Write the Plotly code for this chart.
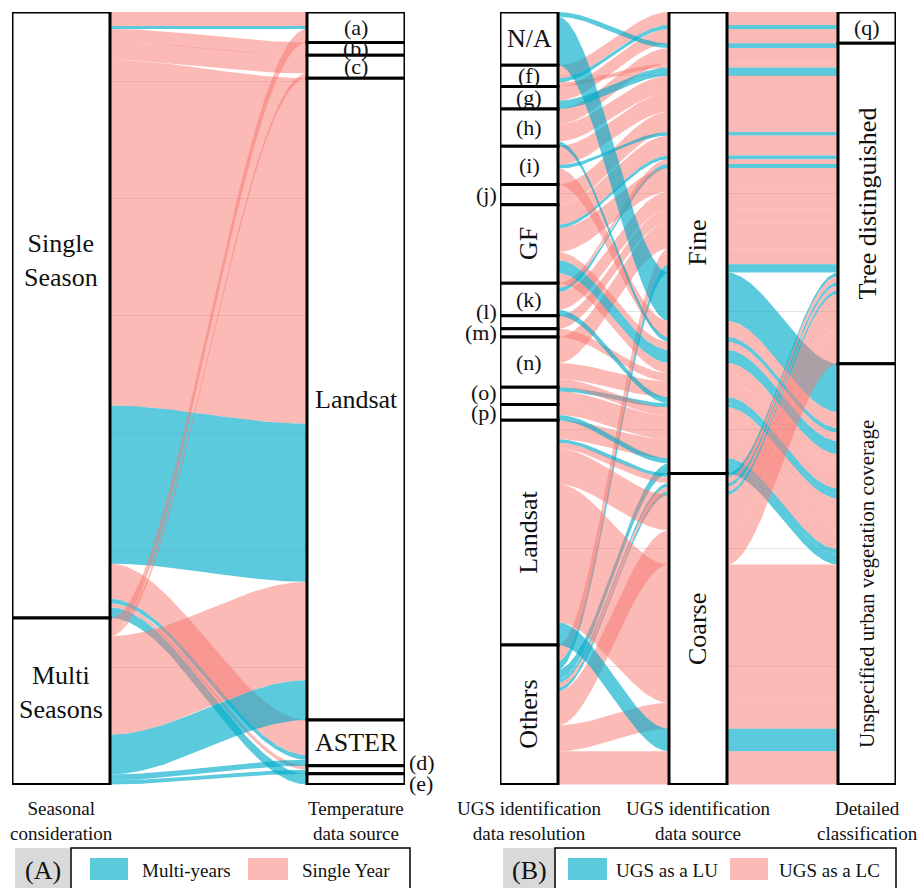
import numpy as np
import plotly.graph_objects as go

# ---------------- Panel A: seasonal consideration -> temperature data source
season_levels = ["Single Season", "Multi Seasons"]
temp_levels = ["(a)", "(b)", "(c)", "Landsat", "ASTER", "(d)", "(e)"]
a_season = ["Single Season"] * 10 + ["Multi Seasons"] * 6
a_temp = ["(a)", "(a)", "(b)", "(c)", "Landsat", "Landsat", "ASTER", "ASTER", "(d)", "(e)",
          "(a)", "(c)", "Landsat", "Landsat", "ASTER", "(d)"]
a_period = ["Single Year", "Multi-years", "Single Year", "Single Year", "Single Year",
            "Multi-years", "Single Year", "Multi-years", "Single Year", "Multi-years",
            "Single Year", "Single Year", "Single Year", "Multi-years", "Multi-years",
            "Multi-years"]
a_weight = [1.2, 0.25, 1.1, 1.55, 29.5, 13.5, 3.0, 0.4, 0.35, 0.9,
            1.15, 0.4, 8.4, 3.4, 0.5, 0.35]

# ---------------- Panel B: resolution -> data source -> detailed classification
res_levels = ["N/A", "(f)", "(g)", "(h)", "(i)", "(j)", "GF", "(k)", "(l)", "(m)",
              "(n)", "(o)", "(p)", "Landsat", "Others"]
src_levels = ["Fine", "Coarse"]
cls_levels = ["(q)", "Tree distinguished", "Unspecified urban vegetation coverage"]
TD, UN = "Tree distinguished", "Unspecified urban vegetation coverage"

b_res = ["(f)", "(f)", "(g)",
         "N/A", "(h)", "(f)", "(g)", "(h)", "(i)", "(j)", "(i)", "GF", "GF", "(k)", "(k)",
         "GF", "(k)", "(l)", "(n)", "Others", "Others",
         "N/A", "(i)", "(h)", "GF", "GF", "GF", "(m)", "(n)", "(k)", "(o)", "(n)", "(o)",
         "(p)", "Landsat", "(p)", "Others",
         "Landsat", "Landsat", "Others", "Others", "Others", "Landsat", "Others",
         "Landsat", "Others", "Landsat", "Others"]
b_src = ["Fine"] * 37 + ["Coarse"] * 11
b_cls = ["(q)"] * 3 + [TD] * 18 + [UN] * 16 + [TD] * 7 + [UN] * 4
b_type = ["LC", "LU", "LC",
          "LU", "LC", "LC", "LU", "LC", "LC", "LC", "LU", "LC", "LU", "LC", "LU",
          "LC", "LC", "LC", "LC", "LC", "LU",
          "LU", "LC", "LU", "LC", "LU", "LC", "LC", "LC", "LU", "LU", "LC", "LC",
          "LC", "LC", "LU", "LU",
          "LU", "LC", "LU", "LC", "LU", "LC", "LC",
          "LC", "LC", "LU", "LC"]
b_weight = [1.1, 0.35, 1.2,
            0.4, 1.3, 0.35, 0.7, 1.45, 1.6, 1.7, 0.3, 1.7, 0.3, 0.4, 0.35,
            2.0, 1.5, 1.1, 2.2, 1.35, 0.7,
            4.1, 1.35, 0.4, 0.7, 1.1, 0.85, 0.7, 1.35, 0.5, 0.35, 0.7, 1.1,
            0.9, 1.6, 0.45, 0.85,
            0.3, 0.5, 0.3, 0.4, 0.3, 3.0, 2.9,
            11.7, 2.2, 1.9, 2.8]

# ---------------- styling
CYAN = "rgba(0,172,202,0.64)"
SALMON = "rgba(248,118,109,0.5)"
colour_a = {"Multi-years": CYAN, "Single Year": SALMON}
colour_b = {"LU": CYAN, "LC": SALMON}
FONT = "Liberation Serif"
W, H = 919, 888


def px(x):
    return x / W


def py(y):
    return 1 - y / H


def stack_axis(strata, levels, weights, key):
    """Stack lodes from the top of the axis; returns lode spans and stratum spans."""
    top = float(sum(weights))
    lodes, spans = {}, {}
    for lev in levels:
        members = sorted([i for i, s in enumerate(strata) if s == lev], key=key)
        if not members:
            continue
        s_top = top
        for i in members:
            lodes[i] = (top - weights[i], top)
            top -= weights[i]
        spans[lev] = (top, s_top)
    return lodes, spans


def ribbon(x0, x1, a, b, n=80):
    t = np.linspace(0, 1, n)
    s = t * t * (3 - 2 * t)
    xs = x0 + (x1 - x0) * t
    upper = a[1] + (b[1] - a[1]) * s
    lower = a[0] + (b[0] - a[0]) * s
    return (np.concatenate([xs, xs[::-1], xs[:1]]),
            np.concatenate([upper, lower[::-1], upper[:1]]))


fig = go.Figure()
shapes, annots = [], []

# ---------- Panel A stacking
sA = {v: k for k, v in enumerate(season_levels)}
tA = {v: k for k, v in enumerate(temp_levels)}
a_left, a_left_span = stack_axis(a_season, season_levels, a_weight,
                                 key=lambda i: (tA[a_temp[i]], i))
a_right, a_right_span = stack_axis(a_temp, temp_levels, a_weight,
                                   key=lambda i: (sA[a_season[i]], i))
hA = 0.1661
totalA = sum(a_weight)
for i in range(len(a_weight)):
    X, Y = ribbon(1 + hA, 2 - hA, a_left[i], a_right[i])
    fig.add_trace(go.Scatter(x=X, y=Y, mode="lines", fill="toself",
                             fillcolor=colour_a[a_period[i]], line=dict(width=0),
                             hoverinfo="skip", showlegend=False, xaxis="x", yaxis="y"))

# ---------- Panel B stacking
sB = {v: k for k, v in enumerate(src_levels)}
cB = {v: k for k, v in enumerate(cls_levels)}
b_l, b_l_span = stack_axis(b_res, res_levels, b_weight,
                           key=lambda i: (sB[b_src[i]], cB[b_cls[i]], i))
b_m, b_m_span = stack_axis(b_src, src_levels, b_weight,
                           key=lambda i: (cB[b_cls[i]], i))
b_r, b_r_span = stack_axis(b_cls, cls_levels, b_weight,
                           key=lambda i: (sB[b_src[i]], i))
hB = 0.1716
totalB = sum(b_weight)
for i in range(len(b_weight)):
    for (x0, x1, a, b) in [(1 + hB, 2 - hB, b_l[i], b_m[i]), (2 + hB, 3 - hB, b_m[i], b_r[i])]:
        X, Y = ribbon(x0, x1, a, b)
        fig.add_trace(go.Scatter(x=X, y=Y, mode="lines", fill="toself",
                                 fillcolor=colour_b[b_type[i]], line=dict(width=0),
                                 hoverinfo="skip", showlegend=False, xaxis="x2", yaxis="y2"))


# ---------- strata boxes and labels
def add_strata(spans, xpos, h, xr, yr, labels):
    for lev, (lo, hi) in spans.items():
        shapes.append(dict(type="rect", xref=xr, yref=yr, x0=xpos - h, x1=xpos + h,
                           y0=lo, y1=hi, fillcolor="white",
                           line=dict(color="black", width=3), layer="above"))
        spec = labels.get(lev, {})
        text = spec.get("text", lev)
        side = spec.get("side", "in")
        ann = dict(xref=xr, yref=yr, y=(lo + hi) / 2, text=text, showarrow=False,
                   font=dict(family=FONT, size=spec.get("size", 26), color="#111111"),
                   textangle=spec.get("angle", 0), yshift=spec.get("dy", 0))
        if side == "in":
            ann.update(x=xpos, xanchor="center", yanchor="middle")
        elif side == "left":
            ann.update(x=xpos - h, xanchor="right", xshift=-1, yanchor="middle")
        else:
            ann.update(x=xpos + h, xanchor="left", xshift=2, yanchor="middle")
        annots.append(ann)


small = 22
labA_left = {"Single Season": dict(text="Single<br>Season", dy=55),
             "Multi Seasons": dict(text="Multi<br>Seasons", dy=9)}
labA_right = {"(a)": dict(size=small), "(b)": dict(size=small), "(c)": dict(size=small),
              "(d)": dict(size=small, side="right", dy=7),
              "(e)": dict(size=small, side="right", dy=-4)}
add_strata(a_left_span, 1, hA, "x", "y", labA_left)
add_strata(a_right_span, 2, hA, "x", "y", labA_right)

labB_left = {k: dict(size=small) for k in ["(f)", "(g)", "(h)", "(i)", "(k)", "(n)"]}
labB_left.update({"(j)": dict(size=small, side="left"),
                  "(l)": dict(size=small, side="left", dy=11),
                  "(m)": dict(size=small, side="left", dy=0),
                  "(o)": dict(size=small, side="left", dy=3),
                  "(p)": dict(size=small, side="left", dy=0),
                  "GF": dict(angle=-90), "Landsat": dict(angle=-90),
                  "Others": dict(angle=-90)})
labB_mid = {"Fine": dict(angle=-90), "Coarse": dict(angle=-90)}
labB_right = {"(q)": dict(size=small), TD: dict(angle=-90),
              UN: dict(angle=-90, size=21, dy=-10)}
add_strata(b_l_span, 1, hB, "x2", "y2", labB_left)
add_strata(b_m_span, 2, hB, "x2", "y2", labB_mid)
add_strata(b_r_span, 3, hB, "x2", "y2", labB_right)

# ---------- axis titles under each column
for xr, xv, txt in [("x", 1, "Seasonal<br>consideration"),
                    ("x", 2, "Temperature<br>data source"),
                    ("x2", 1, "UGS identification<br>data resolution"),
                    ("x2", 2, "UGS identification<br>data source"),
                    ("x2", 3, "Detailed<br>classification")]:
    annots.append(dict(xref=xr, yref="paper", x=xv, y=py(821), text=txt, showarrow=False,
                       xanchor="center", yanchor="middle",
                       font=dict(family=FONT, size=19, color="#111111")))

# ---------- legends
legends = [
    dict(tag="(A)", grey=(15, 71), box=(71, 410),
         items=[(90, 128, CYAN, "Multi-years", 186), (248, 288, SALMON, "Single Year", 346)]),
    dict(tag="(B)", grey=(503, 555), box=(555, 896),
         items=[(568, 607, CYAN, "UGS as a LU", 667), (730, 768, SALMON, "UGS as a LC", 829)]),
]
for lg in legends:
    shapes.append(dict(type="rect", xref="paper", yref="paper", x0=px(lg["grey"][0]),
                       x1=px(lg["grey"][1]), y0=py(900), y1=py(848),
                       fillcolor="#d9d9d9", line=dict(width=0)))
    shapes.append(dict(type="rect", xref="paper", yref="paper", x0=px(lg["box"][0]),
                       x1=px(lg["box"][1]), y0=py(900), y1=py(848),
                       fillcolor="white", line=dict(color="black", width=1.5)))
    annots.append(dict(xref="paper", yref="paper", x=px(sum(lg["grey"]) / 2), y=py(870),
                       text=lg["tag"], showarrow=False, xanchor="center", yanchor="middle",
                       font=dict(family=FONT, size=26, color="#111111")))
    for x0, x1, col, name, tx in lg["items"]:
        shapes.append(dict(type="rect", xref="paper", yref="paper", x0=px(x0), x1=px(x1),
                           y0=py(880), y1=py(858), fillcolor=col, line=dict(width=0)))
        annots.append(dict(xref="paper", yref="paper", x=px(tx), y=py(870), text=name,
                           showarrow=False, xanchor="center", yanchor="middle",
                           font=dict(family=FONT, size=19, color="#111111")))

ydom = [py(785), py(12)]
grid = dict(showgrid=True, gridcolor="#e4e4e4", gridwidth=1, dtick=10, tick0=0,
            showticklabels=False, zeroline=False, showline=False, ticks="", fixedrange=True)
nogrid = dict(showgrid=False, showticklabels=False, zeroline=False, showline=False,
              ticks="", fixedrange=True)

fig.update_layout(
    width=W, height=H, margin=dict(l=0, r=0, t=0, b=0),
    paper_bgcolor="white", plot_bgcolor="white",
    xaxis=dict(domain=[px(12), px(405)], range=[1 - hA, 2 + hA], **nogrid),
    yaxis=dict(domain=ydom, range=[-0.05, totalA], anchor="x", **grid),
    xaxis2=dict(domain=[px(500), px(896)], range=[1 - hB, 3 + hB], anchor="y2", **nogrid),
    yaxis2=dict(domain=ydom, range=[-0.05, totalB], anchor="x2", **grid),
    shapes=shapes, annotations=annots, showlegend=False,
)

fig.write_html("out.html")
